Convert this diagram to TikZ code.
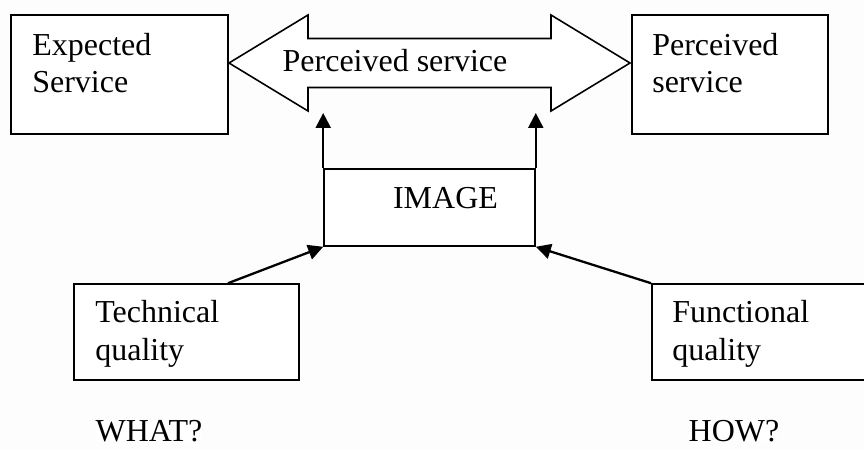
\documentclass[tikz,border=0pt]{standalone}
\usepackage{fontspec}
\setmainfont{Liberation Serif}
\usetikzlibrary{arrows.meta}
\definecolor{linec}{HTML}{000000}
\definecolor{bgc}{HTML}{FDFDFD}

\begin{document}
\begin{tikzpicture}[x=1cm,y=1cm,
  box/.style={draw=linec, line width=0.9pt, fill=white, inner sep=0pt},
  lbl/.style={inner sep=0pt, align=left, font=\fontsize{18.2}{21.6}\selectfont},
  link/.style={draw=linec, line width=1.3pt, -{Triangle[length=0.3cm,width=0.3cm]}}]
  \useasboundingbox (0,0) rectangle (17.28,9);
  \fill[bgc] (0,0) rectangle (17.28,9);

  % ============================================================
  %                       PARAMETERS
  % ============================================================
  \def\midY{7.74}      % axis of the double arrow
  \def\headH{0.96}     % half height of the heads
  \def\bodyH{0.49}     % half height of the shaft
  \def\tipL{4.58}
  \def\tipR{12.60}
  \def\headLen{1.58}

  \pgfmathsetmacro{\backL}{\tipL + \headLen}
  \pgfmathsetmacro{\backR}{\tipR - \headLen}
  \pgfmathsetmacro{\headTop}{\midY + \headH}
  \pgfmathsetmacro{\headBot}{\midY - \headH}
  \pgfmathsetmacro{\bodyTop}{\midY + \bodyH}
  \pgfmathsetmacro{\bodyBot}{\midY - \bodyH}

  % ============================================================
  %                       BOXES (text anchored on last line)
  % ============================================================
  \node[box, minimum width=4.34cm, minimum height=2.38cm] (expected) at (2.39,7.51) {};
  \node[lbl, anchor=base west] (expectedtxt) at (0.64,7.14) {Expected\\Service};

  \node[box, minimum width=3.92cm, minimum height=2.38cm] (perceived) at (14.60,7.51) {};
  \node[lbl, anchor=base west] (perceivedtxt) at (13.04,7.14) {Perceived\\service};

  \node[box, minimum width=4.22cm, minimum height=1.54cm] (image) at (8.59,4.85) {};
  \node[lbl, anchor=base] (imagetxt) at (8.91,4.82) {IMAGE};

  \node[box, minimum width=4.50cm, minimum height=1.92cm] (tech) at (3.73,2.36) {};
  \node[lbl, anchor=base west] (techtxt) at (1.90,1.79) {Technical\\quality};

  \node[box, minimum width=4.60cm, minimum height=1.92cm, anchor=west] (func) at (13.02,2.36) {};
  \node[lbl, anchor=base west] (functxt) at (13.44,1.79) {Functional\\quality};

  % ============================================================
  %                       DOUBLE ARROW
  % ============================================================
  \draw[linec, line width=0.9pt, fill=white]
    (\tipL,\midY) -- (\backL,\headTop) -- (\backL,\bodyTop) -- (\backR,\bodyTop)
    -- (\backR,\headTop) -- (\tipR,\midY) -- (\backR,\headBot) -- (\backR,\bodyBot)
    -- (\backL,\bodyBot) -- (\backL,\headBot) -- cycle;
  \node[lbl, anchor=base] (arrowtxt) at (7.90,7.56) {Perceived service};

  % ============================================================
  %                       CONNECTORS
  % ============================================================
  \coordinate (upL) at (image.north west |- 0,6.74);
  \coordinate (upR) at (image.north east |- 0,6.74);
  \draw[link] (image.north west) -- (upL);
  \draw[link] (image.north east) -- (upR);
  \draw[link] ([xshift=0.83cm]tech.north) -- (image.south west);
  \draw[link] (func.north west) -- (image.south east);

  % ============================================================
  %                       QUESTIONS
  % ============================================================
  \node[lbl, fill=white, anchor=base] (what) at (2.98,0.18) {WHAT?};
  \node[lbl, fill=white, anchor=base] (how) at (14.68,0.18) {HOW?};

\end{tikzpicture}
\end{document}
